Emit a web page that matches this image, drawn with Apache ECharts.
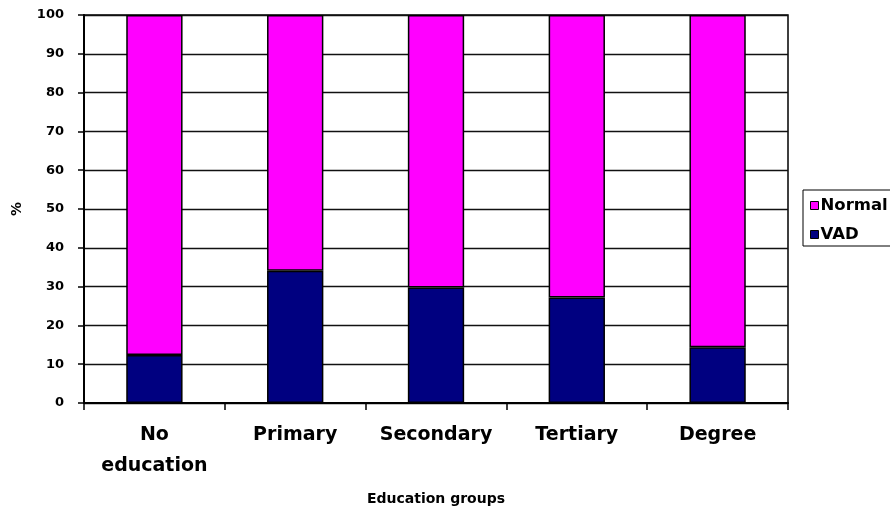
<!DOCTYPE html>
<html>
<head>
<meta charset="utf-8">
<script src="https://cdn.jsdelivr.net/npm/echarts@6/dist/echarts.min.js"></script>
<style>
  html, body { margin: 0; padding: 0; background: #ffffff; }
  #chart { width: 890px; height: 515px; }
</style>
</head>
<body>
<div id="chart"></div>
<script>
// Education groups along the x axis
const categories = ['No\neducation', 'Primary', 'Secondary', 'Tertiary', 'Degree'];
// Share of each group with vitamin A deficiency (%)
const vadValues = [12.4, 34.1, 29.8, 27.2, 14.4];
// Share with normal status (%), the rest of each 100% column
const normalValues = [87.6, 65.9, 70.2, 72.8, 85.6];
// Value axis ticks
const yTicks = [0, 10, 20, 30, 40, 50, 60, 70, 80, 90, 100];

const FONT = 'DejaVu Sans';

const chart = echarts.init(document.getElementById('chart'), null, { renderer: 'canvas' });

chart.setOption({
  backgroundColor: '#ffffff',
  animation: false,
  grid: {
    left: 84, right: 102, top: 15, bottom: 112,
    show: true, borderColor: '#000000', borderWidth: 1.5, backgroundColor: 'transparent'
  },
  legend: {
    data: ['Normal', 'VAD'],
    orient: 'vertical',
    left: 803, top: 190,
    padding: [7, 40, 3, 7],
    itemGap: 12,
    itemWidth: 8, itemHeight: 8,
    icon: 'rect',
    borderColor: '#000000', borderWidth: 1,
    backgroundColor: '#ffffff',
    itemStyle: { borderColor: '#000000', borderWidth: 1 },
    textStyle: { fontFamily: FONT, fontWeight: 'bold', fontSize: 16.5, color: '#000000', padding: [0, 0, 0, -3] }
  },
  xAxis: {
    type: 'category',
    data: categories,
    name: 'Education groups',
    nameLocation: 'middle',
    nameGap: 89,
    nameTextStyle: { fontFamily: FONT, fontWeight: 'bold', fontSize: 14, color: '#000000' },
    axisLine: { lineStyle: { color: '#000000', width: 2 } },
    axisTick: { show: true, length: 7, lineStyle: { color: '#000000', width: 1.5 } },
    axisLabel: {
      interval: 0, margin: 17, lineHeight: 31,
      fontFamily: FONT, fontWeight: 'bold', fontSize: 19, color: '#000000'
    },
    splitLine: { show: false }
  },
  yAxis: {
    type: 'value',
    min: yTicks[0], max: yTicks[yTicks.length - 1], interval: 10,
    name: '%',
    nameLocation: 'middle',
    nameGap: 60,
    nameRotate: 90,
    nameTextStyle: { fontFamily: FONT, fontWeight: 'bold', fontSize: 14, color: '#000000' },
    axisLine: { show: true, lineStyle: { color: '#000000', width: 2 } },
    axisTick: { show: true, length: 6, lineStyle: { color: '#000000', width: 1.5 } },
    axisLabel: { margin: 20, fontFamily: FONT, fontWeight: 'bold', fontSize: 13, color: '#000000' },
    splitLine: { show: true, lineStyle: { color: '#111111', width: 1.3 } }
  },
  series: [
    {
      name: 'VAD', type: 'bar', stack: 'total', barWidth: '40%',
      data: vadValues,
      itemStyle: { color: '#000080', borderColor: '#000000', borderWidth: 1.5 }
    },
    {
      name: 'Normal', type: 'bar', stack: 'total', barWidth: '40%',
      data: normalValues,
      itemStyle: { color: '#FF00FF', borderColor: '#000000', borderWidth: 1.5 }
    }
  ]
});
</script>
</body>
</html>
